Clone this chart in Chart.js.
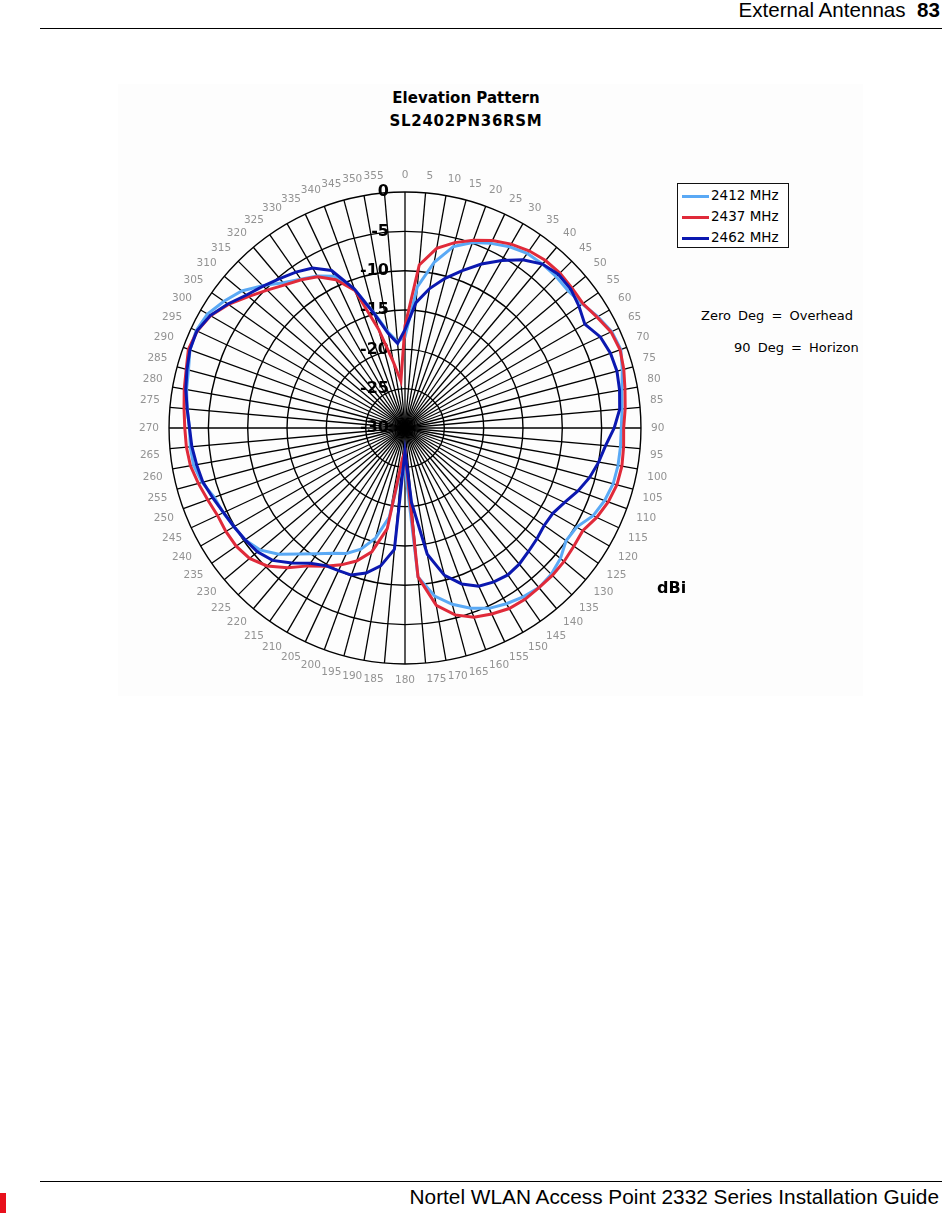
<!DOCTYPE html>
<html>
<head>
<meta charset="utf-8">
<script src="https://cdn.jsdelivr.net/npm/chart.js@4.4.1/dist/chart.umd.min.js"></script>
<style>
  body { margin: 0; width: 942px; height: 1213px; position: relative; background: #fff; overflow: hidden;
         font-family: "Liberation Sans", Arial, sans-serif; color: #000; }
  .abs { position: absolute; }
  #hdr { right: 2px; top: -2px; font-size: 20.6px; white-space: nowrap; }
  .rule { left: 40px; width: 902px; height: 0; border-top: 1.5px solid #000; }
  #ftr { right: 3px; top: 1185px; font-size: 20.8px; white-space: nowrap; }
  #redmark { left: 0; top: 1193px; width: 6px; height: 20px; background: #e8101c; }
  #plate { left: 118px; top: 84px; width: 745px; height: 612px; background: #fdfdfd; }
  #title { left: 366px; top: 87px; width: 200px; text-align: center; font-family: "DejaVu Sans", sans-serif;
           font-weight: bold; font-size: 15px; line-height: 23px; }
  #title span { letter-spacing: 0.7px; }
  #chartBox { left: 124px; top: 149px; width: 560px; height: 560px; }
  #legend { left: 677px; top: 183px; width: 110px; height: 63px; border: 1.5px solid #111; background: #fff;
            font-family: "DejaVu Sans", sans-serif; font-size: 13.5px; }
  .row { position: absolute; left: 4px; height: 22px; line-height: 22px; white-space: nowrap; }
  .row i { display: inline-block; width: 27px; height: 3px; vertical-align: middle; margin-right: 2px; }
  .note { font-family: "DejaVu Sans", sans-serif; font-size: 13px; word-spacing: 3px; white-space: nowrap; }
  #dbi { left: 657px; top: 578px; font-family: "DejaVu Sans", sans-serif; font-weight: bold; font-size: 16px; }
</style>
</head>
<body>
<div id="hdr" class="abs">External Antennas&nbsp;&nbsp;<b>83</b></div>
<div class="abs rule" style="top:28px"></div>

<div id="plate" class="abs"></div>
<div id="title" class="abs">Elevation Pattern<br><span>SL2402PN36RSM</span></div>
<div id="chartBox" class="abs"><canvas id="elevationChart" width="560" height="560"></canvas></div>

<div id="legend" class="abs">
  <div class="row" style="top:0px"><i style="background:#5aa9f5"></i>2412 MHz</div>
  <div class="row" style="top:21px"><i style="background:#e02a3a"></i>2437 MHz</div>
  <div class="row" style="top:42px"><i style="background:#0b18b0"></i>2462 MHz</div>
</div>
<div class="abs note" style="left:701px; top:308px">Zero Deg = Overhead</div>
<div class="abs note" style="left:734px; top:340px">90 Deg = Horizon</div>
<div id="dbi" class="abs">dBi</div>

<div class="abs rule" style="top:1181px"></div>
<div id="redmark" class="abs"></div>
<div id="ftr" class="abs">Nortel WLAN Access Point 2332 Series Installation Guide</div>

<script>
// Angles (deg), one spoke every 5 degrees
var angles = [];
for (var a = 0; a < 360; a += 5) angles.push(String(a));

// Radial tick values (dBi)
var tickValues = [-30, -25, -20, -15, -10, -5, 0];

// Gain in dBi at 0, 5, 10 ... 355 deg
var gain2412 = [
  -18.4, -12, -8.6, -6.1, -4.9, -4.1, -3.4, -2.9, -2.8, -2.8, -2.9, -2.5,
  -1.7, -1.0, -0.8, -1.4, -2.0, -2.3, -2.5, -2.5, -2.5, -2.6, -3.0, -3.6,
  -4.8, -5.0, -4.2, -3.7, -3.5, -3.8, -4.2, -4.7, -5.6, -6.8, -8.3, -11,
  -25, -25, -18.5, -15.5, -13.6, -12.4, -11.6, -10.5, -9.1, -7.3, -5.9, -5.2,
  -4.9, -4.5, -4.2, -3.3, -2.7, -2.6, -2.6, -2.2, -1.8, -1.5, -0.9, -0.7,
  -1.0, -1.9, -2.9, -4.4, -5.9, -6.9, -7.7, -8.7, -11.3, -14.9, -17.6, -19
];
var gain2437 = [
  -17, -9.2, -6.8, -5.6, -4.6, -3.7, -3.0, -2.5, -2.2, -2.15, -2.3, -2.4,
  -1.8, -1.1, -0.9, -1.2, -1.6, -1.9, -2.2, -2.1, -2.0, -2.1, -2.5, -3.1,
  -3.9, -3.8, -3.6, -3.5, -3.5, -3.4, -3.5, -3.9, -4.4, -5.4, -7.1, -11,
  -27, -26, -17, -13.7, -12.0, -10.8, -9.7, -8.6, -6.8, -5.2, -4.2, -3.8,
  -3.7, -3.7, -3.3, -2.8, -2.3, -2.1, -2.0, -1.8, -1.5, -1.2, -0.7, -0.85,
  -1.45, -2.6, -4.0, -5.2, -6.25, -7.0, -7.8, -9.2, -11.4, -17, -21.5, -24
];
var gain2462 = [
  -17.5, -14.0, -12, -10.3, -8.7, -7.0, -5.4, -3.9, -2.8, -2.4, -2.5, -3.0,
  -3.6, -2.6, -2.2, -2.1, -2.3, -2.6, -3.4, -4.4, -5.0, -5.7, -6.6, -7.6,
  -8.3, -8.4, -8.1, -7.8, -7.4, -7.2, -7.4, -7.8, -8.9, -10.6, -13.7, -20.5,
  -27, -14.5, -12.2, -10.9, -10.1, -10.0, -9.8, -9.0, -7.6, -6.2, -5.5, -5.2,
  -4.9, -4.55, -4.0, -3.4, -3.1, -2.8, -2.6, -2.2, -1.7, -1.3, -0.9, -0.8,
  -1.4, -2.5, -3.7, -4.5, -5.2, -5.8, -6.5, -7.9, -11.2, -15.0, -17.8, -19.2
];

// Bold dBi labels drawn just left of the 0 deg spoke
var tickLabelPlugin = {
  id: 'tickLabels',
  beforeDatasetsDraw: function(chart) {
    var scale = chart.scales.r;
    var ctx = chart.ctx;
    ctx.save();
    ctx.font = 'bold 16px "DejaVu Sans"';
    ctx.fillStyle = '#000';
    ctx.textAlign = 'right';
    ctx.textBaseline = 'middle';
    tickValues.forEach(function(v) {
      var y = scale.yCenter - scale.getDistanceFromCenterForValue(v);
      ctx.fillText(String(v), scale.xCenter - 16, y);
    });
    ctx.restore();
  }
};

function series(label, data, color, order) {
  return {
    label: label,
    data: data,
    borderColor: color,
    backgroundColor: color,
    borderWidth: 3,
    fill: false,
    pointRadius: 0,
    tension: 0,
    order: order
  };
}

var ctx = document.getElementById('elevationChart').getContext('2d');
new Chart(ctx, {
  type: 'radar',
  data: {
    labels: angles,
    datasets: [
      series('2412 MHz', gain2412, '#5aa9f5', 2),
      series('2437 MHz', gain2437, '#e02a3a', 1),
      series('2462 MHz', gain2462, '#0b18b0', 0)
    ]
  },
  options: {
    responsive: false,
    animation: false,
    layout: { padding: 14 },
    plugins: {
      legend: { display: false },
      title: { display: false },
      tooltip: { enabled: false }
    },
    scales: {
      r: {
        min: -30,
        max: 0,
        startAngle: 0,
        ticks: { stepSize: 5, display: false },
        grid: { circular: true, color: '#000', lineWidth: 1.4 },
        angleLines: { color: '#000', lineWidth: 1.3 },
        pointLabels: {
          color: '#939393',
          padding: 10,
          font: { family: 'DejaVu Sans', size: 10.5 }
        }
      }
    }
  },
  plugins: [tickLabelPlugin]
});
</script>
</body>
</html>
